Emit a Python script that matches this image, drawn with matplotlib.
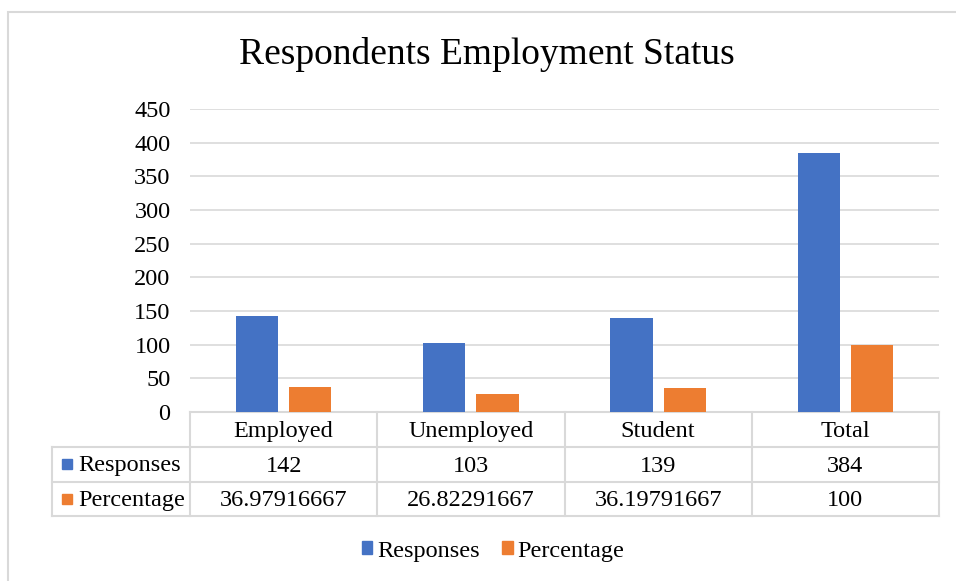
import numpy as np
import matplotlib.pyplot as plt
from matplotlib.patches import Rectangle, Patch
from matplotlib.lines import Line2D
from matplotlib.transforms import blended_transform_factory

plt.rcParams['font.family'] = ['Liberation Serif', 'DejaVu Serif']

# data
categories = ['Employed', 'Unemployed', 'Student', 'Total']
responses = [142, 103, 139, 384]
percentage = [36.97916667, 26.82291667, 36.19791667, 100]
series_names = ['Responses', 'Percentage']
colors = ['#4472C4', '#ED7D31']
yticks = [0, 50, 100, 150, 200, 250, 300, 350, 400, 450]

W, H = 956, 581
fs = 17.5
fig = plt.figure(figsize=(W / 100, H / 100), dpi=100)

# outer chart frame
fig.patches.append(Rectangle((8 / W, -0.05), 1.2, 1 - 12 / H + 0.05,
                             transform=fig.transFigure, fill=False,
                             edgecolor='#d9d9d9', linewidth=1.5))

left, right, top, bottom = 190, 939, 109, 412
ax = fig.add_axes([left / W, 1 - bottom / H, (right - left) / W, (bottom - top) / H])

x = np.arange(len(categories))
bw = 0.225
ax.bar(x - 0.142, responses, bw, color=colors[0], zorder=3)
ax.bar(x + 0.142, percentage, bw, color=colors[1], zorder=3)

ax.set_xlim(-0.5, len(categories) - 0.5)
ax.set_ylim(0, 450)
ax.set_yticks(yticks)
ax.set_yticklabels([str(t) for t in yticks], fontsize=fs)
ax.set_xticks([])
ax.tick_params(axis='y', length=0, pad=14)
ax.yaxis.grid(True, color='#d9d9d9', linewidth=1.2, zorder=0)
for s in ax.spines.values():
    s.set_visible(False)

fig.suptitle('Respondents Employment Status', x=487 / W, y=1 - 55 / H,
             va='center', fontsize=27)

# data table under the plot
tr = blended_transform_factory(ax.transData, ax.transAxes)
ah = bottom - top
rows = [0, -34.5 / ah, -69.5 / ah, -104 / ah]
x_lab = -0.5 - (left - 52) / 187
grid_kw = dict(color='#d9d9d9', linewidth=1.5, transform=tr, clip_on=False)

n = len(categories)
# horizontal lines
ax.add_line(Line2D([-0.5, n - 0.5], [rows[0]] * 2, **grid_kw))
for r in rows[1:]:
    ax.add_line(Line2D([x_lab, n - 0.5], [r] * 2, **grid_kw))
# vertical lines
for c in np.arange(n + 1) - 0.5:
    ax.add_line(Line2D([c, c], [rows[0], rows[3]], **grid_kw))
ax.add_line(Line2D([x_lab, x_lab], [rows[1], rows[3]], **grid_kw))

off = -2 / ah
for i, cat in enumerate(categories):
    ax.text(i, (rows[0] + rows[1]) / 2 + off, cat, transform=tr, ha='center',
            va='center', fontsize=fs)
    ax.text(i, (rows[1] + rows[2]) / 2 + off, f'{responses[i]:g}', transform=tr,
            ha='center', va='center', fontsize=fs)
    ax.text(i, (rows[2] + rows[3]) / 2 + off, f'{percentage[i]:.10g}', transform=tr,
            ha='center', va='center', fontsize=fs)

key_w = 10 / 187
key_h = 10 / ah
for j, name in enumerate(series_names):
    yc = (rows[j + 1] + rows[j + 2]) / 2
    ax.add_patch(Rectangle((x_lab + 10 / 187, yc - key_h / 2), key_w, key_h,
                           transform=tr, color=colors[j], clip_on=False))
    ax.text(x_lab + 26 / 187, yc + off, name, transform=tr, ha='left', va='center',
            fontsize=fs)

handles = [Patch(color=c, label=l) for c, l in zip(colors, series_names)]
fig.legend(handles=handles, loc='center', bbox_to_anchor=(493 / W, 1 - 551 / H),
           ncol=2, frameon=False, fontsize=fs, handlelength=0.45,
           handleheight=0.45, handletextpad=0.2, columnspacing=0.9)

fig.savefig('out.png', dpi=100)
